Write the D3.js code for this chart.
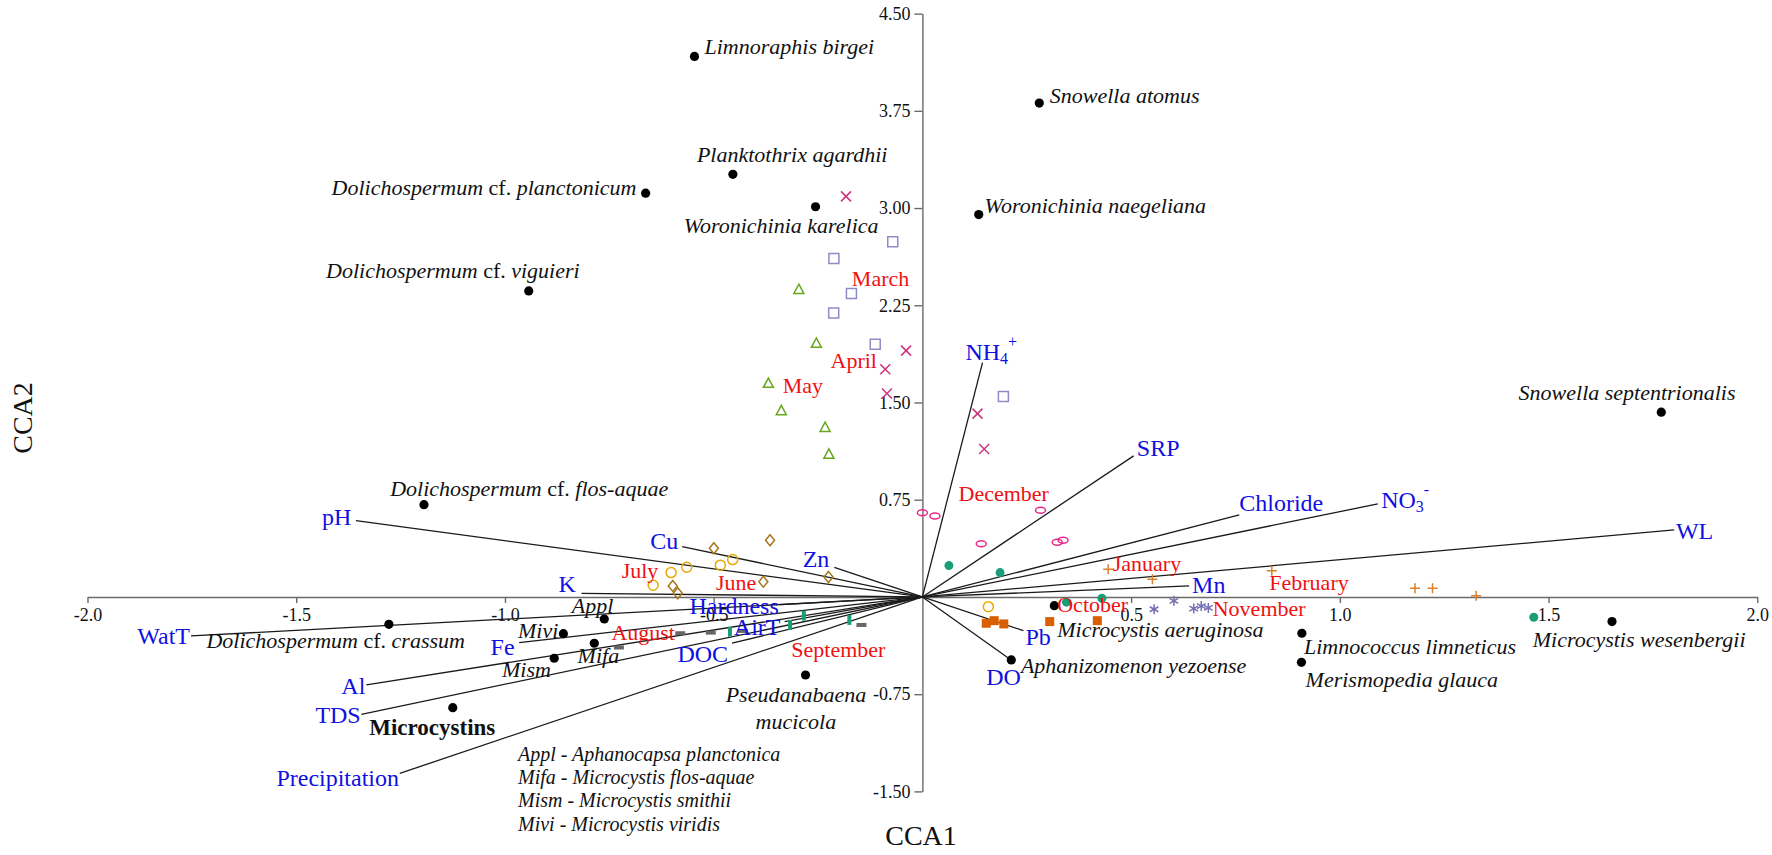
<!DOCTYPE html>
<html><head><meta charset="utf-8">
<script src="https://cdn.jsdelivr.net/npm/d3@7"></script>
<style>body{margin:0;background:#fff}svg{display:block}</style>
</head><body>
<svg id="chart" width="1772" height="855"></svg>
<script>
// ---------------- DATA ----------------
const xTicks = [-2, -1.5, -1, -0.5, 0.5, 1, 1.5, 2];
const yTicks = [-1.5, -0.75, 0.75, 1.5, 2.25, 3, 3.75, 4.5];

// Species scores (CCA1, CCA2)
const speciesNames = ["Limnoraphis birgei","Snowella atomus","Planktothrix agardhii","Dolichospermum cf. planctonicum",
  "Woronichinia karelica","Woronichinia naegeliana","Dolichospermum cf. viguieri","Snowella septentrionalis",
  "Dolichospermum cf. flos-aquae","Dolichospermum cf. crassum","Appl","Mivi","Mifa","Mism","Microcystins",
  "Pseudanabaena mucicola","Aphanizomenon yezoense","Microcystis aeruginosa","Limnococcus limneticus",
  "Merismopedia glauca","Microcystis wesenbergii"];
const speciesX = [-0.546,0.280,-0.454,-0.663,-0.256,0.135,-0.943,1.770,-1.194,-1.278,-0.762,-0.860,-0.786,-0.882,-1.125,-0.280,0.213,0.316,0.909,0.908,1.652];
const speciesY = [4.17,3.81,3.26,3.115,3.01,2.95,2.361,1.425,0.712,-0.211,-0.17,-0.283,-0.357,-0.473,-0.854,-0.602,-0.486,-0.067,-0.28,-0.504,-0.19];

// Environmental vectors (arrow tips)
const envNames = ["pH","K","Cu","Zn","Hardness","AirT","DOC","WatT","Fe","Al","TDS","Precipitation","NH4+","SRP","Chloride","NO3-","WL","Mn","Pb","DO"];
const envX = [-1.357,-0.8165,-0.5755,-0.211,-0.34,-0.33,-0.456,-1.752,-0.966,-1.332,-1.344,-1.252,0.144,0.506,0.759,1.091,1.801,0.639,0.242,0.21];
const envY = [0.589,0.028,0.388,0.229,-0.059,-0.19,-0.357,-0.301,-0.352,-0.679,-0.905,-1.361,1.808,1.088,0.633,0.718,0.517,0.085,-0.26,-0.48];

// Sample scores by month
const marchX = [-0.071,-0.212,-0.170,-0.2125,-0.113,0.194];
const marchY = [2.74,2.61,2.34,2.19,1.95,1.546];
const aprilX = [-0.183,-0.039,-0.089,-0.085,0.132,0.148];
const aprilY = [3.09,1.90,1.757,1.57,1.414,1.142];
const mayX = [-0.296,-0.254,-0.369,-0.338,-0.233,-0.224];
const mayY = [2.37,1.955,1.646,1.435,1.306,1.10];
const juneX = [-0.365,-0.4995,-0.381,-0.225,-0.598,-0.586];
const juneY = [0.437,0.376,0.118,0.154,0.085,0.029];
const julyX = [-0.5645,-0.602,-0.645,-0.484,-0.4545,0.158];
const julyY = [0.229,0.188,0.09,0.245,0.288,-0.075];
const augustX = [-0.727,-0.58,-0.507,-0.43,-0.146];
const augustY = [-0.39,-0.28,-0.275,-0.262,-0.216];
const septemberX = [-0.461,-0.317,-0.284,-0.175];
const septemberY = [-0.268,-0.216,-0.144,-0.177];
const octoberX = [0.153,0.172,0.195,0.305,0.419];
const octoberY = [-0.203,-0.183,-0.208,-0.19,-0.183];
const octoberBX = [0.0635,0.186,0.345,0.43,1.4646];
const octoberBY = [0.242,0.188,-0.04,-0.01,-0.157];
const novemberX = [0.555,0.6025,0.65,0.668,0.685];
const novemberY = [-0.095,-0.03,-0.09,-0.07,-0.085];
const decemberX = [0.0,0.030,0.283,0.141,0.323,0.337];
const decemberY = [0.65,0.625,0.669,0.411,0.422,0.437];
const januaryX = [0.445,0.551];
const januaryY = [0.213,0.137];
const februaryX = [0.837,1.18,1.222,1.3265];
const februaryY = [0.203,0.067,0.067,0.01];

// Month label names
const monthNames = ["March","April","May","June","July","August","September","October","November","December","January","February"];

const legendLines = ["Appl - Aphanocapsa planctonica","Mifa - Microcystis flos-aquae","Mism - Microcystis smithii","Mivi - Microcystis viridis"];

// ---------------- LAYOUT (label anchor points in axis units) ----------------
const speciesLabelLayout = [
  [-0.522,4.25,"start"],[0.305,3.868,"start"],[-0.312,3.41,"middle"],[-0.685,3.166,"end"],
  [-0.105,2.863,"end"],[0.149,3.017,"start"],[-0.821,2.523,"end"],[1.688,1.576,"middle"],
  [-1.275,0.839,"start"],[-1.715,-0.33,"start"],[-0.840,-0.069,"start"],[-0.872,-0.26,"end"],
  [-0.826,-0.455,"start"],[-0.89,-0.556,"end"],[-1.325,-1.01,"start"],[-0.303,-0.75,"middle"],
  [0.236,-0.525,"start"],[0.323,-0.25,"start"],[0.914,-0.383,"start"],[0.918,-0.64,"start"],[1.462,-0.327,"start"]];
const envLabelLayout = [
  [-1.368,0.615,"end"],[-0.830,0.10,"end"],[-0.585,0.434,"end"],[-0.223,0.291,"end"],[-0.344,-0.069,"end"],
  [-0.34,-0.229,"end"],[-0.4655,-0.44,"end"],[-1.7545,-0.301,"end"],[-0.977,-0.383,"end"],[-1.3345,-0.687,"end"],
  [-1.3455,-0.91,"end"],[-1.2537,-1.399,"end"],[0.103,1.893,"start"],[0.5137,1.147,"start"],[0.759,0.723,"start"],
  [1.099,0.748,"start"],[1.805,0.512,"start"],[0.646,0.093,"start"],[0.247,-0.306,"start"],[0.153,-0.615,"start"]];
const monthLabelLayout = [
  [-0.169,2.459],[-0.22,1.823],[-0.3345,1.628],[-0.4947,0.110],[-0.7204,0.203],[-0.745,-0.273],
  [-0.314,-0.409],[0.323,-0.062],[0.6955,-0.087],[0.0865,0.795],[0.456,0.255],[0.831,0.11]];

// ---------------- DRAW ----------------
const svg = d3.select("#chart");
const FONT = "'Liberation Serif','Times New Roman',serif";
const x = d3.scaleLinear().domain([-2, 2]).range([87.5, 1757.3]);
const y = d3.scaleLinear().domain([-1.5, 4.5]).range([791.4, 13.6]);

// axes
const xAxis = d3.axisBottom(x).tickValues(xTicks).tickFormat(d => d.toFixed(1)).tickSize(6).tickSizeOuter(0).tickPadding(5);
const yAxis = d3.axisLeft(y).tickValues(yTicks).tickFormat(d => d.toFixed(2)).tickSize(8).tickSizeOuter(0).tickPadding(4);
const gx = svg.append("g").attr("transform", `translate(0,${y(0)})`).call(xAxis);
const gy = svg.append("g").attr("transform", `translate(${x(0)},0)`).call(yAxis);
[gx, gy].forEach(g => {
  g.selectAll("path,line").attr("stroke", "#6a6a6a").attr("stroke-width", 1.4);
  g.selectAll("text").attr("font-family", FONT).attr("font-size", 18).attr("fill", "#111");
});

// vectors
svg.append("g").selectAll("line").data(envNames).join("line")
  .attr("x1", x(0)).attr("y1", y(0))
  .attr("x2", (d, i) => x(envX[i])).attr("y2", (d, i) => y(envY[i]))
  .attr("stroke", "#1a1a1a").attr("stroke-width", 1.3);

// sample symbols
const groups = [
  {name:"March", xs:marchX, ys:marchY, kind:"square", color:"#8e8cc6"},
  {name:"April", xs:aprilX, ys:aprilY, kind:"times", color:"#c9347f"},
  {name:"May", xs:mayX, ys:mayY, kind:"triangle", color:"#66a61e"},
  {name:"June", xs:juneX, ys:juneY, kind:"diamond", color:"#a6761d"},
  {name:"July", xs:julyX, ys:julyY, kind:"circle", color:"#e6ab02"},
  {name:"August", xs:augustX, ys:augustY, kind:"hbar", color:"#666666"},
  {name:"September", xs:septemberX, ys:septemberY, kind:"vbar", color:"#1b9e77"},
  {name:"October", xs:octoberX, ys:octoberY, kind:"fsquare", color:"#d95f02"},
  {name:"October-b", xs:octoberBX, ys:octoberBY, kind:"dot", color:"#1b9e77"},
  {name:"November", xs:novemberX, ys:novemberY, kind:"asterisk", color:"#7570b3"},
  {name:"December", xs:decemberX, ys:decemberY, kind:"ellipse", color:"#e7298a"},
  {name:"January", xs:januaryX, ys:januaryY, kind:"plus", color:"#d9822b"},
  {name:"February", xs:februaryX, ys:februaryY, kind:"plus", color:"#d9822b"}
];
function symPath(kind) {
  const s = 5;
  switch (kind) {
    case "square": return `M${-s},${-s}h${2*s}v${2*s}h${-2*s}Z`;
    case "fsquare": return `M${-4.5},${-4.5}h9v9h-9Z`;
    case "times": return `M${-s},${-s}L${s},${s}M${-s},${s}L${s},${-s}`;
    case "triangle": return `M0,${-5.5}L${5},${3.8}L${-5},${3.8}Z`;
    case "diamond": return `M0,${-5.5}L${4.5},0L0,${5.5}L${-4.5},0Z`;
    case "plus": return `M${-s},0H${s}M0,${-s}V${s}`;
    case "hbar": return `M-5,-2h10v4h-10Z`;
    case "vbar": return `M-2,-5h4v10h-4Z`;
    case "asterisk": return `M0,-5V5M-4.3,-2.5L4.3,2.5M-4.3,2.5L4.3,-2.5`;
    case "ellipse": return `M-5,0A5,3 0 1,0 5,0A5,3 0 1,0 -5,0Z`;
    case "circle": return `M-5,0A5,5 0 1,0 5,0A5,5 0 1,0 -5,0Z`;
    case "dot": return `M-4.5,0A4.5,4.5 0 1,0 4.5,0A4.5,4.5 0 1,0 -4.5,0Z`;
  }
}
const filled = new Set(["fsquare","hbar","vbar","dot"]);
const sg = svg.append("g");
groups.forEach(g => {
  sg.append("g").selectAll("path").data(g.xs.map((v, i) => [v, g.ys[i]])).join("path")
    .attr("transform", d => `translate(${x(d[0])},${y(d[1])})`)
    .attr("d", symPath(g.kind))
    .attr("fill", filled.has(g.kind) ? g.color : "none")
    .attr("stroke", filled.has(g.kind) ? "none" : g.color)
    .attr("stroke-width", 1.5);
});

// species dots
svg.append("g").selectAll("circle").data(speciesNames).join("circle")
  .attr("cx", (d, i) => x(speciesX[i])).attr("cy", (d, i) => y(speciesY[i]))
  .attr("r", 4.6).attr("fill", "#000");

// species labels
const spg = svg.append("g").attr("font-family", FONT).attr("font-size", 22).attr("fill", "#111");
speciesNames.forEach((name, i) => {
  const [lx, ly, anchor] = speciesLabelLayout[i];
  const t = spg.append("text").attr("x", x(lx)).attr("y", y(ly))
    .attr("text-anchor", anchor).attr("dominant-baseline", "central");
  if (name === "Microcystins") {
    t.attr("font-weight", "bold").attr("font-size", 23).text(name);
  } else if (name.includes(" cf. ")) {
    const [genus, ep] = name.split(" cf. ");
    t.append("tspan").attr("font-style", "italic").text(genus + " ");
    t.append("tspan").text("cf. ");
    t.append("tspan").attr("font-style", "italic").text(ep);
  } else if (name === "Pseudanabaena mucicola") {
    const parts = name.split(" ");
    t.attr("font-style", "italic");
    t.append("tspan").attr("x", x(lx)).text(parts[0]);
    t.append("tspan").attr("x", x(lx)).attr("dy", 27).text(parts[1]);
  } else {
    t.attr("font-style", "italic").text(name);
  }
});

// env labels
const eg = svg.append("g").attr("font-family", FONT).attr("font-size", 24).attr("fill", "#1010e0");
envNames.forEach((name, i) => {
  const [lx, ly, anchor] = envLabelLayout[i];
  const t = eg.append("text").attr("x", x(lx)).attr("y", y(ly))
    .attr("text-anchor", anchor).attr("dominant-baseline", "central");
  if (name === "NH4+" || name === "NO3-") {
    t.append("tspan").text(name.slice(0, 2));
    t.append("tspan").attr("font-size", 16).attr("dy", 6).text(name[2]);
    t.append("tspan").attr("font-size", 16).attr("dy", -17).text(name[3]);
  } else {
    t.text(name);
  }
});

// month labels
svg.append("g").attr("font-family", FONT).attr("font-size", 22).attr("fill", "#ee1111")
  .selectAll("text").data(monthNames).join("text")
  .attr("x", (d, i) => x(monthLabelLayout[i][0])).attr("y", (d, i) => y(monthLabelLayout[i][1]))
  .attr("dominant-baseline", "central").text(d => d);

// abbreviation legend
svg.append("g").attr("font-family", FONT).attr("font-size", 20).attr("font-style", "italic").attr("fill", "#111")
  .selectAll("text").data(legendLines).join("text")
  .attr("x", 518).attr("y", (d, i) => 754 + i * 23.2).attr("dominant-baseline", "central").text(d => d);

// axis titles
svg.append("text").attr("x", 921).attr("y", 835).attr("text-anchor", "middle").attr("dominant-baseline", "central")
  .attr("font-family", FONT).attr("font-size", 28).attr("fill", "#111").text("CCA1");
svg.append("text").attr("transform", "translate(22,418) rotate(-90)").attr("text-anchor", "middle").attr("dominant-baseline", "central")
  .attr("font-family", FONT).attr("font-size", 28).attr("fill", "#111").text("CCA2");
</script>
</body></html>
